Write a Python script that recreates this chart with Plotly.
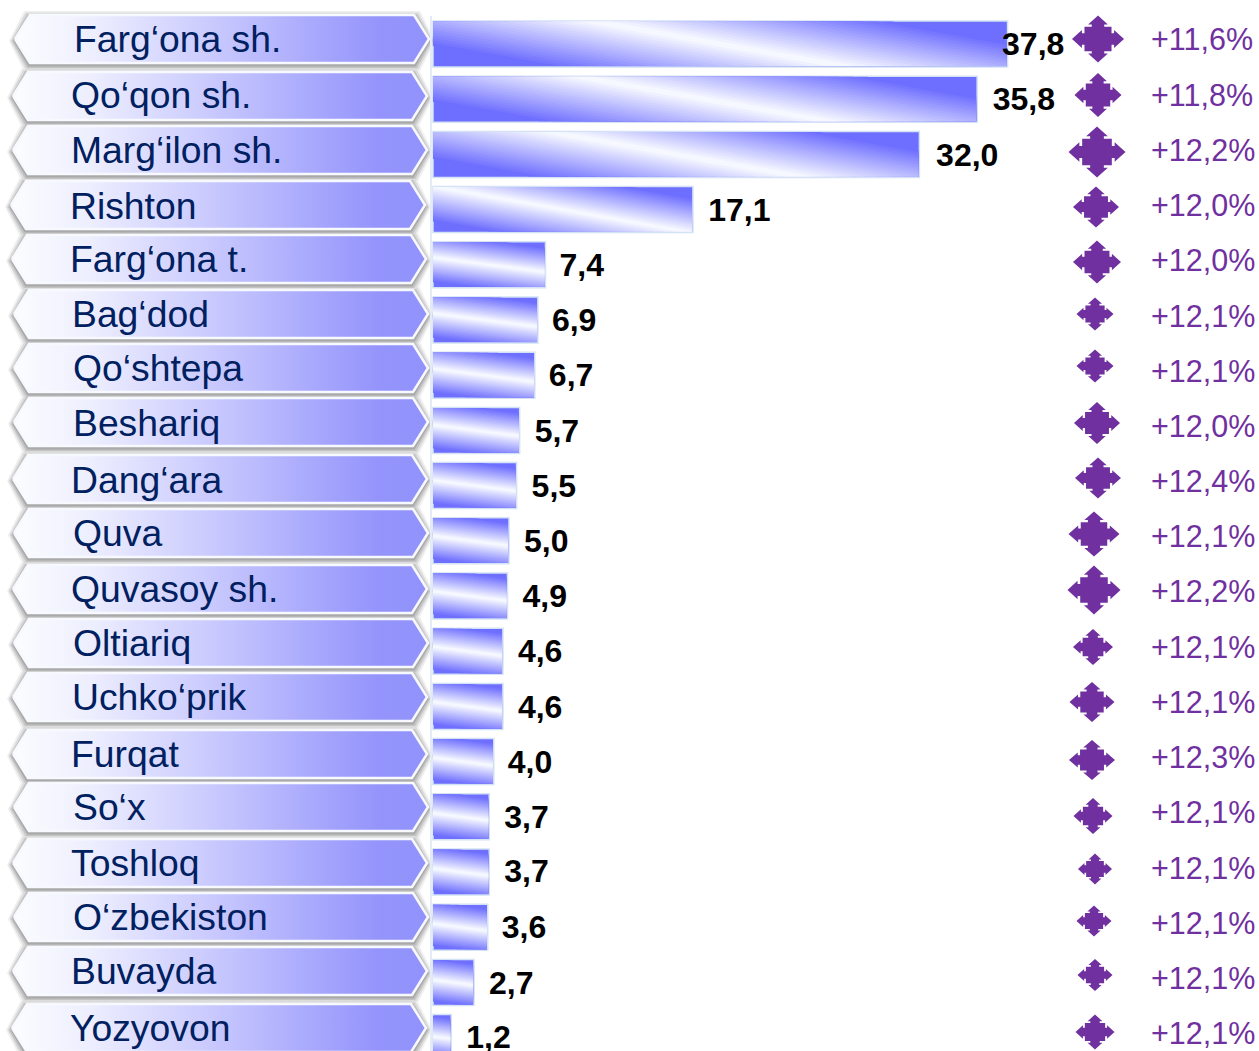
import plotly.graph_objects as go

# ---- data ----
districts = ["Farg‘ona sh.", "Qo‘qon sh.", "Marg‘ilon sh.", "Rishton", "Farg‘ona t.", "Bag‘dod",
             "Qo‘shtepa", "Beshariq", "Dang‘ara", "Quva", "Quvasoy sh.", "Oltiariq", "Uchko‘prik",
             "Furqat", "So‘x", "Toshloq", "O‘zbekiston", "Buvayda", "Yozyovon"]
values = [37.8, 35.8, 32.0, 17.1, 7.4, 6.9, 6.7, 5.7, 5.5, 5.0, 4.9, 4.6, 4.6, 4.0, 3.7, 3.7, 3.6, 2.7, 1.2]
growth = [11.6, 11.8, 12.2, 12.0, 12.0, 12.1, 12.1, 12.0, 12.4, 12.1, 12.2, 12.1, 12.1, 12.3, 12.1, 12.1, 12.1, 12.1, 12.1]

# ---- layout constants (pixels on the 1259x1051 page) ----
W, H = 1259, 1051
X0, XS = 433.0, 15.2       # px of value 0, px per unit
Y0, YS = 44.0, 55.2        # px of row 0, px per row
BAR_H = 46.0
TEXT_DY = 3

label_nudge = [-5.5, 15.5, 16.7, 15.3, 14, 14, 14, 15, 15, 15, 15, 15, 15, 14, 15, 15, 14, 15, 15]
label_dy = [0, 0, 0.5, 0.5, 0, 0, 0, 0.5, 0.5, 0, 0, 0, 0.5, 0.5, 0, -1, 0, 0.5, -0.5]

tag_left = [15, 13, 13, 11, 12, 14, 14, 14, 13, 14, 13, 14, 13, 13, 14, 13, 14, 13, 12]
tag_top = [15, 72, 126, 181, 235, 290, 344, 398, 455, 509, 565, 619, 673, 730, 783, 839, 893, 947, 1004]
tag_text_x = [74, 71, 71, 70, 70, 72, 73, 73, 71, 73, 71, 73, 72, 71, 73, 71, 73, 71, 70]
tag_text_y = [40, 96, 151, 207, 260, 315, 369, 424, 481, 534, 590, 644, 698, 755, 808, 864, 918, 972, 1029]

arrow_cx = [1098, 1098, 1097, 1096, 1097, 1095, 1095, 1097, 1098, 1094, 1094, 1093, 1092, 1092, 1093, 1095, 1094, 1095, 1095]
arrow_cy = [39, 95, 152, 207, 262, 314, 366, 423, 478, 534, 590, 647, 702, 760, 816, 869, 921, 975, 1032]
arrow_w = [52, 47, 57, 46, 48, 37, 37, 46, 46, 51, 53, 40, 45, 46, 39, 34, 35, 35, 39]
arrow_h = [47, 44, 51, 41, 43, 33, 33, 42, 41, 45, 49, 36, 40, 40, 36, 31, 31, 32, 35]
growth_y = [39, 95, 150, 205, 260, 316, 371, 426, 481, 536, 591, 647, 702, 757, 812, 868, 923, 978, 1033]


def xd(px):
    return (px - X0) / XS


def yd(py):
    return (py - Y0) / YS


rows = list(range(len(values)))
fig = go.Figure()


def add_poly(polys, color):
    xs, ys = [], []
    for poly in polys:
        xs += [xd(p[0]) for p in poly] + [xd(poly[0][0]), None]
        ys += [yd(p[1]) for p in poly] + [yd(poly[0][1]), None]
    fig.add_trace(go.Scatter(x=xs, y=ys, mode="none", fill="toself", fillcolor=color, hoverinfo="skip"))


def hexagon(left, top, w=414, h=48, notch=15, grow=0, dy=0):
    t, b = top - grow + dy, top + h + grow + dy
    l, r = left - grow, left + w + grow
    m = (t + b) / 2
    return [(l, m), (l + notch, t), (r - notch, t), (r, m), (r - notch, b), (l + notch, b)]


# label tags: shadows, then gradient hexagons
for grow, col in [(6, "rgba(110,110,110,0.10)"), (4.5, "rgba(110,110,110,0.16)"),
                  (3, "rgba(110,110,110,0.22)"), (1.5, "rgba(110,110,110,0.30)")]:
    add_poly([hexagon(l, t, grow=grow, dy=2) for l, t in zip(tag_left, tag_top)], col)

for l, t in zip(tag_left, tag_top):
    poly = hexagon(l, t)
    poly.append(poly[0])
    fig.add_trace(go.Scatter(
        x=[xd(p[0]) for p in poly], y=[yd(p[1]) for p in poly],
        mode="lines", line=dict(color="#f7f9ff", width=2.5), fill="toself",
        fillgradient=dict(type="horizontal", colorscale=[
            [0.0, "#fbfdff"], [0.18, "#eeeffe"], [0.45, "#cdcdfe"], [0.72, "#a9a9fd"], [0.88, "#9494fc"], [1.0, "#9292fc"]]),
        hoverinfo="skip"))

# the axis line to the left of the bars
fig.add_shape(type="line", x0=xd(431), x1=xd(431), y0=yd(16), y1=yd(H + 5),
              line=dict(color="#e2ebf6", width=2), layer="above")

# bars
fig.add_trace(go.Bar(x=values, y=rows, orientation="h", width=BAR_H / YS, base=0,
                     marker=dict(color="#6f6fff", line=dict(color="#d3e2f5", width=1.5)),
                     hoverinfo="skip"))


# sheen on the bars: nested clipped bands that grow lighter towards the middle line
def clip(poly, ylim, keep_below):
    out = []
    inside = (lambda p: p[1] <= ylim) if keep_below else (lambda p: p[1] >= ylim)
    for i, a in enumerate(poly):
        b = poly[(i + 1) % len(poly)]
        if inside(a):
            out.append(a)
        if inside(a) != inside(b):
            f = (ylim - a[1]) / (b[1] - a[1])
            out.append((a[0] + f * (b[0] - a[0]), ylim))
    return out


LEVELS = 20
DARK, LIGHT = (0x6f, 0x6f, 0xff), (0xf6, 0xf8, 0xff)
for k in range(LEVELS):
    frac = 1 - k / LEVELS      # 1 = widest band
    f = k / (LEVELS - 1)
    col = "rgb(%d,%d,%d)" % tuple(round(DARK[c] + (LIGHT[c] - DARK[c]) * f) for c in range(3))
    polys = []
    for i, v in enumerate(values):
        x0, x1 = X0, X0 + v * XS - 1
        yc = Y0 + i * YS
        w = x1 - x0
        slope = 0.18 if v > 10 else 0.13
        reach = 20 + 0.65 * slope * w / 2
        xc = (x0 + x1) / 2
        d = reach * frac
        poly = [(x0, yc + slope * (x0 - xc) - d), (x1, yc + slope * (x1 - xc) - d),
                (x1, yc + slope * (x1 - xc) + d), (x0, yc + slope * (x0 - xc) + d)]
        poly = clip(poly, yc - BAR_H / 2 + 0.5, False)
        if poly:
            poly = clip(poly, yc + BAR_H / 2 - 1, True)
        if len(poly) >= 3:
            polys.append(poly)
    if polys:
        add_poly(polys, col)

# four-way arrows
ARROW = [(0, -1), (.38, -.62), (.24, -.62), (.24, -.52), (.52, -.52), (.52, -.24), (.62, -.24), (.62, -.38),
         (1, 0), (.62, .38), (.62, .24), (.52, .24), (.52, .52), (.24, .52), (.24, .62), (.38, .62),
         (0, 1), (-.38, .62), (-.24, .62), (-.24, .52), (-.52, .52), (-.52, .24), (-.62, .24), (-.62, .38),
         (-1, 0), (-.62, -.38), (-.62, -.24), (-.52, -.24), (-.52, -.52), (-.24, -.52), (-.24, -.62), (-.38, -.62)]
add_poly([[(cx + px * w / 2, cy + py * h / 2) for px, py in ARROW]
          for cx, cy, w, h in zip(arrow_cx, arrow_cy, arrow_w, arrow_h)], "#7030a0")

# texts
fig.add_trace(go.Scatter(
    x=[xd(p) for p in tag_text_x], y=[yd(p + TEXT_DY) for p in tag_text_y], mode="text", text=districts,
    textposition="middle right", hoverinfo="skip",
    textfont=dict(family="Liberation Sans", size=37.3, color="#002060")))
fig.add_trace(go.Scatter(
    x=[v + n / XS for v, n in zip(values, label_nudge)], y=[r + (dy + TEXT_DY) / YS for r, dy in zip(rows, label_dy)],
    mode="text", text=[f"{v:.1f}".replace(".", ",") for v in values],
    textposition="middle right", hoverinfo="skip",
    textfont=dict(family="Liberation Sans", size=32, color="#000000", weight="bold")))
fig.add_trace(go.Scatter(
    x=[xd(1151)] * len(growth), y=[yd(p + TEXT_DY) for p in growth_y], mode="text",
    text=[f"+{g:.1f}%".replace(".", ",") for g in growth],
    textposition="middle right", hoverinfo="skip",
    textfont=dict(family="Liberation Sans", size=30.5, color="#7030a0")))

fig.update_layout(
    width=W, height=H, margin=dict(l=0, r=0, t=0, b=0), showlegend=False,
    paper_bgcolor="white", plot_bgcolor="white", barmode="overlay",
    xaxis=dict(range=[xd(0), xd(W)], visible=False, fixedrange=True),
    yaxis=dict(range=[yd(H), yd(0)], visible=False, fixedrange=True),
)
fig.write_html("out.html", config={"displayModeBar": False},
               post_script="document.body.style.margin='0';document.documentElement.style.overflow='hidden';")
